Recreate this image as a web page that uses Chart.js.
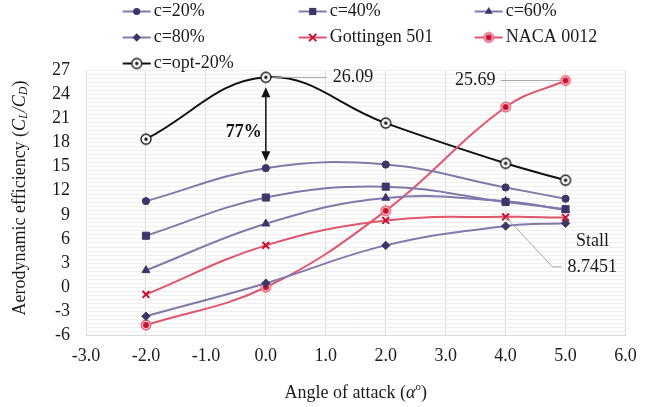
<!DOCTYPE html>
<html>
<head>
<meta charset="utf-8">
<script src="https://cdn.jsdelivr.net/npm/chart.js@4"></script>
<style>
  html, body { margin: 0; padding: 0; background: #fff; }
  #wrap { width: 664px; height: 407px; position: relative; }
</style>
</head>
<body>
<div id="wrap"><canvas id="chart"></canvas></div>
<script>
// Angle of attack (deg)
const angles = [-2, 0, 2, 4, 5];

// Aerodynamic efficiency CL/CD per series
const c20 = [10.7, 14.8, 15.25, 12.4, 11.0];
const c40 = [6.4, 11.15, 12.5, 10.6, 9.7];
const c60 = [2.1, 7.9, 11.1, 10.7, 9.6];
const c80 = [-3.6, 0.5, 5.2, 7.6, 7.95];
const gottingen501 = [-0.9, 5.2, 8.3, 8.7451, 8.66];
const naca0012 = [-4.7, 0.0, 9.5, 22.4, 25.69];
const optC20 = [18.4, 26.09, 20.4, 15.4, 13.3];

const seriesNames = ['c=20%', 'c=40%', 'c=60%', 'c=80%', 'Gottingen 501', 'NACA 0012', 'c=opt-20%'];

const xTicks = [-3, -2, -1, 0, 1, 2, 3, 4, 5, 6];
const yTicks = [-6, -3, 0, 3, 6, 9, 12, 15, 18, 21, 24, 27];

const FONT = '"Liberation Serif", "Times New Roman", serif';
const TEXT = '#1a1a1a';
const PURPLE_LINE = '#8279aa';
const PURPLE_MARK = '#3f3569';
const RED_LINE = '#e2566c';
const RED_MARK = '#c8102e';

// marker images for the two "target" styles
function icon(draw) {
  const c = document.createElement('canvas');
  c.width = 14; c.height = 14;
  draw(c.getContext('2d'), 7);
  return c;
}
const nacaIcon = icon((g, m) => {
  g.beginPath(); g.arc(m, m, 4.9, 0, Math.PI * 2);
  g.fillStyle = '#f6c6cd'; g.fill();
  g.lineWidth = 1.1; g.strokeStyle = '#e0506a'; g.stroke();
  g.beginPath(); g.arc(m, m, 3, 0, Math.PI * 2);
  g.fillStyle = RED_MARK; g.fill();
});
const optIcon = icon((g, m) => {
  g.beginPath(); g.arc(m, m, 5, 0, Math.PI * 2);
  g.fillStyle = '#fff'; g.fill();
  g.lineWidth = 1.3; g.strokeStyle = '#111'; g.stroke();
  g.beginPath(); g.arc(m, m, 1.7, 0, Math.PI * 2);
  g.fillStyle = '#111'; g.fill();
});

const toPts = (vals) => angles.map((a, i) => ({ x: a, y: vals[i] }));

function series(label, vals, line, mark, style, radius) {
  return {
    label: label,
    data: toPts(vals),
    borderColor: line,
    backgroundColor: mark,
    pointBackgroundColor: mark,
    pointBorderColor: mark,
    pointBorderWidth: style === 'crossRot' ? 2 : 1,
    pointStyle: style,
    pointRadius: radius,
    borderWidth: 2,
    tension: 0.4,
    fill: false
  };
}

const datasets = [
  series(seriesNames[0], c20, PURPLE_LINE, PURPLE_MARK, 'circle', 3.6),
  series(seriesNames[1], c40, PURPLE_LINE, PURPLE_MARK, 'rect', 5),
  series(seriesNames[2], c60, PURPLE_LINE, PURPLE_MARK, 'triangle', 4.6),
  series(seriesNames[3], c80, PURPLE_LINE, PURPLE_MARK, 'rectRot', 4.2),
  series(seriesNames[4], gottingen501, RED_LINE, RED_MARK, 'crossRot', 4.8),
  series(seriesNames[5], naca0012, RED_LINE, RED_MARK, nacaIcon, 5),
  series(seriesNames[6], optC20, '#111', '#111', optIcon, 5)
];

function drawRich(g, parts, cx, cy) {
  let total = 0;
  parts.forEach(p => {
    g.font = (p.italic ? 'italic ' : '') + (p.bold ? 'bold ' : '') + (p.size || 18) + 'px ' + FONT;
    p.w = g.measureText(p.t).width;
    total += p.w;
  });
  let x = cx - total / 2;
  g.textAlign = 'left';
  g.textBaseline = 'middle';
  parts.forEach(p => {
    g.font = (p.italic ? 'italic ' : '') + (p.bold ? 'bold ' : '') + (p.size || 18) + 'px ' + FONT;
    g.fillText(p.t, x, cy + (p.dy || 0));
    x += p.w;
  });
}

function legendMarker(g, ds, x, y) {
  const st = ds.pointStyle;
  g.fillStyle = ds.pointBackgroundColor;
  g.strokeStyle = ds.pointBorderColor;
  if (st instanceof HTMLCanvasElement) {
    g.drawImage(st, x - st.width / 2, y - st.height / 2);
    return;
  }
  g.beginPath();
  if (st === 'circle') {
    g.arc(x, y, 3.6, 0, Math.PI * 2); g.fill();
  } else if (st === 'rect') {
    g.fillRect(x - 3.6, y - 3.6, 7.2, 7.2);
  } else if (st === 'triangle') {
    const r = 4.6;
    g.moveTo(x, y - r);
    g.lineTo(x + r * Math.sin(Math.PI * 2 / 3), y - r * Math.cos(Math.PI * 2 / 3));
    g.lineTo(x + r * Math.sin(Math.PI * 4 / 3), y - r * Math.cos(Math.PI * 4 / 3));
    g.closePath(); g.fill();
  } else if (st === 'rectRot') {
    const r = 4.2;
    g.moveTo(x, y - r); g.lineTo(x + r, y); g.lineTo(x, y + r); g.lineTo(x - r, y);
    g.closePath(); g.fill();
  } else if (st === 'crossRot') {
    const r = 3.6;
    g.lineWidth = 2;
    g.moveTo(x - r, y - r); g.lineTo(x + r, y + r);
    g.moveTo(x + r, y - r); g.lineTo(x - r, y + r);
    g.stroke();
  }
}

const extras = {
  id: 'extras',
  afterDatasetsDraw(chart) {
    const g = chart.ctx;
    const xs = chart.scales.x, ys = chart.scales.y;
    g.save();

    // leader lines and value labels
    g.strokeStyle = '#a6a6a6';
    g.lineWidth = 1;
    const p0 = xs.getPixelForValue(0), pPeak = ys.getPixelForValue(optC20[1]);
    const p5 = xs.getPixelForValue(5), pNaca = ys.getPixelForValue(naca0012[4]);
    const p4 = xs.getPixelForValue(4), pStall = ys.getPixelForValue(gottingen501[3]);
    g.beginPath();
    g.moveTo(p0 + 6, pPeak); g.lineTo(p0 + 61, pPeak);
    g.moveTo(p5 - 5, pNaca); g.lineTo(p5 - 65, pNaca);
    g.moveTo(p4, pStall); g.lineTo(p4 + 47, pStall + 50); g.lineTo(p4 + 56, pStall + 50);
    g.stroke();

    g.fillStyle = TEXT;
    g.font = '18px ' + FONT;
    g.textBaseline = 'middle';
    g.textAlign = 'left';
    g.fillText('26.09', p0 + 67, pPeak);
    g.fillText('8.7451', p4 + 62, pStall + 50);
    g.textAlign = 'right';
    g.fillText('25.69', p5 - 70, pNaca);
    g.textAlign = 'center';
    g.fillText('Stall', p4 + 87, pStall + 24);

    // double arrow between optimised and c=20% at 0 deg
    const top = pPeak + 10, bot = ys.getPixelForValue(c20[1]) - 7;
    g.strokeStyle = '#111';
    g.fillStyle = '#111';
    g.lineWidth = 1.5;
    g.beginPath(); g.moveTo(p0, top + 8); g.lineTo(p0, bot - 8); g.stroke();
    g.beginPath(); g.moveTo(p0, top); g.lineTo(p0 - 4.5, top + 10); g.lineTo(p0 + 4.5, top + 10); g.closePath(); g.fill();
    g.beginPath(); g.moveTo(p0, bot); g.lineTo(p0 - 4.5, bot - 10); g.lineTo(p0 + 4.5, bot - 10); g.closePath(); g.fill();
    g.font = 'bold 18px ' + FONT;
    g.fillText('77%', p0 - 22, top + 45);

    g.restore();
  },
  afterDraw(chart) {
    const g = chart.ctx;
    const area = chart.chartArea;
    g.save();
    g.fillStyle = TEXT;

    // axis titles
    drawRich(g, [
      { t: 'Angle of attack (' },
      { t: 'α', italic: true },
      { t: 'o', size: 11, dy: -6 },
      { t: ')' }
    ], (area.left + area.right) / 2, 393);

    g.save();
    g.translate(20, 198);
    g.rotate(-Math.PI / 2);
    drawRich(g, [
      { t: 'Aerodynamic efficiency (' },
      { t: 'C', italic: true },
      { t: 'L', italic: true, size: 12, dy: 4 },
      { t: '/', italic: true },
      { t: 'C', italic: true },
      { t: 'D', italic: true, size: 12, dy: 4 },
      { t: ')' }
    ], 0, 0);
    g.restore();

    // legend, three columns
    const colX = [136.7, 312.7, 488.7];
    const rowY = [11.5, 37.5, 63.5];
    chart.data.datasets.forEach((ds, i) => {
      const x = colX[i % 3], y = rowY[Math.floor(i / 3)];
      g.strokeStyle = ds.borderColor;
      g.lineWidth = 2;
      g.beginPath(); g.moveTo(x - 14, y); g.lineTo(x + 14, y); g.stroke();
      legendMarker(g, ds, x, y);
      g.fillStyle = TEXT;
      g.font = '18px ' + FONT;
      g.textAlign = 'left';
      g.textBaseline = 'middle';
      g.fillText(ds.label, x + 17, y);
    });
    g.restore();
  }
};

new Chart(document.getElementById('chart'), {
  type: 'line',
  data: { datasets: datasets },
  options: {
    responsive: true,
    maintainAspectRatio: false,
    animation: false,
    layout: { padding: { top: 70, right: 38.5, left: 0, bottom: 0 } },
    plugins: {
      legend: { display: false },
      tooltip: { enabled: false }
    },
    scales: {
      x: {
        type: 'linear',
        min: xTicks[0],
        max: xTicks[xTicks.length - 1],
        afterFit: (s) => { s.height = 71.5; },
        afterBuildTicks: (s) => { s.ticks = xTicks.map(v => ({ value: v })); },
        ticks: {
          padding: 10,
          color: TEXT,
          font: { family: FONT, size: 18 },
          callback: (v) => Number(v).toFixed(1)
        },
        grid: { color: '#d9d9d9', drawTicks: false },
        border: { color: '#d9d9d9' }
      },
      y: {
        min: yTicks[0],
        max: yTicks[yTicks.length - 1],
        afterFit: (s) => { s.width = 86; },
        ticks: {
          stepSize: 0.5,
          autoSkip: false,
          padding: 16,
          color: TEXT,
          font: { family: FONT, size: 18 },
          callback: (v) => yTicks.includes(v) ? v : ''
        },
        grid: {
          drawTicks: false,
          color: (ctx) => (ctx.tick && ctx.tick.value === yTicks[0]) ? '#d9d9d9' : '#efefef'
        },
        border: { display: false }
      }
    }
  },
  plugins: [extras]
});
</script>
</body>
</html>
